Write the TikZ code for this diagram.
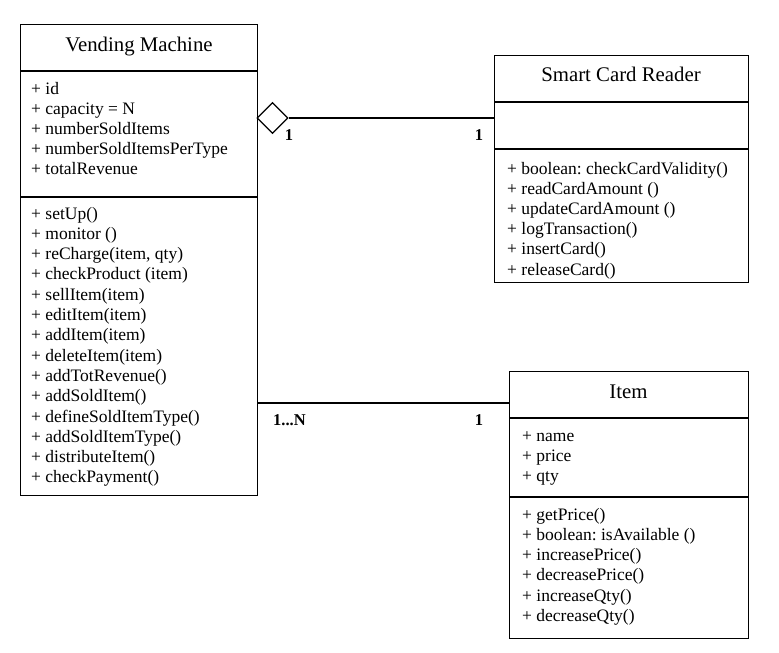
\documentclass[tikz,border=0pt]{standalone}
\usepackage{fontspec}
\setmainfont{Liberation Serif}
\usetikzlibrary{shapes.geometric}
\frenchspacing
\begin{document}
\begin{tikzpicture}[x=1pt,y=-1pt,
  box/.style={draw, line width=1.1pt, rectangle, inner sep=0pt, anchor=north west},
  ln/.style={line width=1.1pt},
  txt/.style={inner sep=0pt, anchor=base west, font=\fontsize{17.5}{20}\selectfont},
  ttl/.style={inner sep=0pt, anchor=base, font=\fontsize{20.8}{24}\selectfont},
  mult/.style={inner sep=0pt, anchor=base, font=\fontsize{16.5}{20}\selectfont\bfseries}]
\useasboundingbox (0,0) rectangle (779,653);

% boxes
\node[box, minimum width=237pt, minimum height=471pt] (vm) at (20,24) {};
\node[box, minimum width=254pt, minimum height=227pt] (scr) at (494,55) {};
\node[box, minimum width=239pt, minimum height=267pt] (item) at (509,371) {};

% separators
\draw[ln] (vm.west |- 0,71) -- (vm.east |- 0,71);
\draw[ln] (vm.west |- 0,197) -- (vm.east |- 0,197);
\draw[ln] (scr.west |- 0,102) -- (scr.east |- 0,102);
\draw[ln] (scr.west |- 0,149) -- (scr.east |- 0,149);
\draw[ln] (item.west |- 0,418) -- (item.east |- 0,418);
\draw[ln] (item.west |- 0,497) -- (item.east |- 0,497);

% titles
\node[ttl] (vmt) at (139,51) {Vending Machine};
\node[ttl] (scrt) at (621,81) {Smart Card Reader};
\node[ttl] (itemt) at (628.5,398) {Item};

% Vending Machine attributes
\foreach \t [count=\i from 0] in {{+ id},{+ capacity = N},{+ numberSoldItems},{+ numberSoldItemsPerType},{+ totalRevenue}}
  \node[txt] (vma\i) at (31,94+20*\i) {\t};
% Vending Machine methods
\foreach \t [count=\i from 0] in {{+ setUp()},{+ monitor ()},{+ reCharge(item, qty)},{+ checkProduct (item)},{+ sellItem(item)},{+ editItem(item)},{+ addItem(item)},{+ deleteItem(item)},{+ addTotRevenue()},{+ addSoldItem()},{+ defineSoldItemType()},{+ addSoldItemType()},{+ distributeItem()},{+ checkPayment()}}
  \node[txt] (vmm\i) at (31,219+20.3*\i) {\t};

% Smart Card Reader methods
\foreach \t [count=\i from 0] in {{+ boolean: checkCardValidity()},{+ readCardAmount ()},{+ updateCardAmount ()},{+ logTransaction()},{+ insertCard()},{+ releaseCard()}}
  \node[txt] (scrm\i) at (507,174+20.2*\i) {\t};

% Item attributes
\foreach \t [count=\i from 0] in {{+ name},{+ price},{+ qty}}
  \node[txt] (ita\i) at (522,441+20*\i) {\t};
% Item methods
\foreach \t [count=\i from 0] in {{+ getPrice()},{+ boolean: isAvailable ()},{+ increasePrice()},{+ decreasePrice()},{+ increaseQty()},{+ decreaseQty()}}
  \node[txt] (itm\i) at (522,520+20.3*\i) {\t};

% aggregation
\node[draw, diamond, line width=1.1pt, minimum width=31pt, minimum height=31pt, inner sep=0pt, fill=white] (dia) at (272.5,118) {};
\draw[ln] (dia.east) -- (dia.east -| scr.west);

% association
\coordinate (c2) at (0,403);
\draw[ln] (vm.east |- c2) -- (item.west |- c2);

% multiplicities
\node[mult] (m1) at (289,140) {1};
\node[mult] (m2) at (479,140) {1};
\node[mult] (m3) at (289.5,425) {1...N};
\node[mult] (m4) at (479,425) {1};
\end{tikzpicture}
\end{document}
